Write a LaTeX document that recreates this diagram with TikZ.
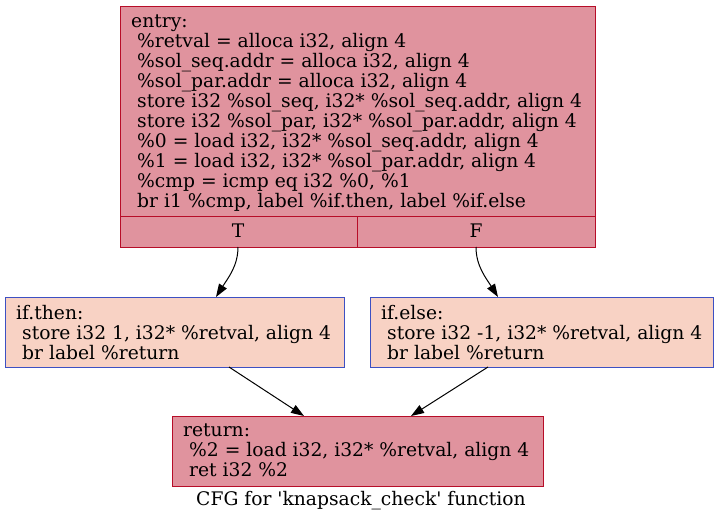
\documentclass[tikz,border=0pt]{standalone}
\usepackage{fontspec}
\setmainfont{DejaVu Serif}
\usetikzlibrary{arrows.meta}
\definecolor{entryfill}{HTML}{E0939E}
\definecolor{entryline}{HTML}{B70D28}
\definecolor{thenfill}{HTML}{F8D2C4}
\definecolor{thenline}{HTML}{3D50C3}
\tikzset{
  hotbox/.style={draw=entryline, fill=entryfill, line width=1pt, anchor=north west, inner sep=0},
  coolbox/.style={draw=thenline, fill=thenfill, line width=1pt, anchor=north west, inner sep=0},
  code/.style={anchor=north west, align=left, inner sep=0, font=\fontsize{18.7}{20}\selectfont},
  lbl/.style={font=\fontsize{18.7}{20}\selectfont, inner sep=0},
  edge/.style={draw=black, line width=1pt, -{Triangle[length=13pt,width=9pt]}}
}
\newcommand{\ind}{\hspace*{0.32em}}
\begin{document}
\begin{tikzpicture}[x=1pt,y=-1pt]
\useasboundingbox (0,0) rectangle (719,524);
% entry
\node[hotbox, minimum width=475pt, minimum height=241pt] (entry) at (120,6) {};
\draw[entryline, line width=1pt] (120,216) -- (595,216);
\draw[entryline, line width=1pt] (357,216) -- (357,247);
\node[code] (entrytxt) at (131,14.5) {entry:\\
\ind\%retval = alloca i32, align 4\\
\ind\%sol\_seq.addr = alloca i32, align 4\\
\ind\%sol\_par.addr = alloca i32, align 4\\
\ind store i32 \%sol\_seq, i32* \%sol\_seq.addr, align 4\\
\ind store i32 \%sol\_par, i32* \%sol\_par.addr, align 4\\
\ind\%0 = load i32, i32* \%sol\_seq.addr, align 4\\
\ind\%1 = load i32, i32* \%sol\_par.addr, align 4\\
\ind\%cmp = icmp eq i32 \%0, \%1\\
\ind br i1 \%cmp, label \%if.then, label \%if.else};
\node[lbl] (tport) at (238,231) {T};
\node[lbl] (fport) at (476,231) {F};
\coordinate (tout) at (238,247);
\coordinate (fout) at (476,247);
% if.then
\node[coolbox, minimum width=339pt, minimum height=70pt] (then) at (5,297) {};
\node[code] (thentxt) at (16,305) {if.then:\\
\ind store i32 1, i32* \%retval, align 4\\
\ind br label \%return};
% if.else
\node[coolbox, minimum width=343pt, minimum height=70pt] (else) at (370,297) {};
\node[code] (elsetxt) at (381,305) {if.else:\\
\ind store i32 -1, i32* \%retval, align 4\\
\ind br label \%return};
% return
\node[hotbox, minimum width=371pt, minimum height=70pt] (ret) at (172,416) {};
\node[code] (rettxt) at (183,424) {return:\\
\ind\%2 = load i32, i32* \%retval, align 4\\
\ind ret i32 \%2};
% caption
\node[lbl] (cap) at (361,501) {CFG for \textquotesingle knapsack\_check\textquotesingle{} function};
% edges
\coordinate (thenin) at (216,297);
\coordinate (elsein) at (498,297);
\coordinate (thenout) at (229,367);
\coordinate (elseout) at (488,367);
\coordinate (retin1) at (304,416);
\coordinate (retin2) at (411,416);
\draw[edge] (tout) .. controls (238,266) and (228,278) .. (thenin);
\draw[edge] (fout) .. controls (476,266) and (486,278) .. (elsein);
\draw[edge] (thenout) -- (retin1);
\draw[edge] (elseout) -- (retin2);
\end{tikzpicture}
\end{document}
